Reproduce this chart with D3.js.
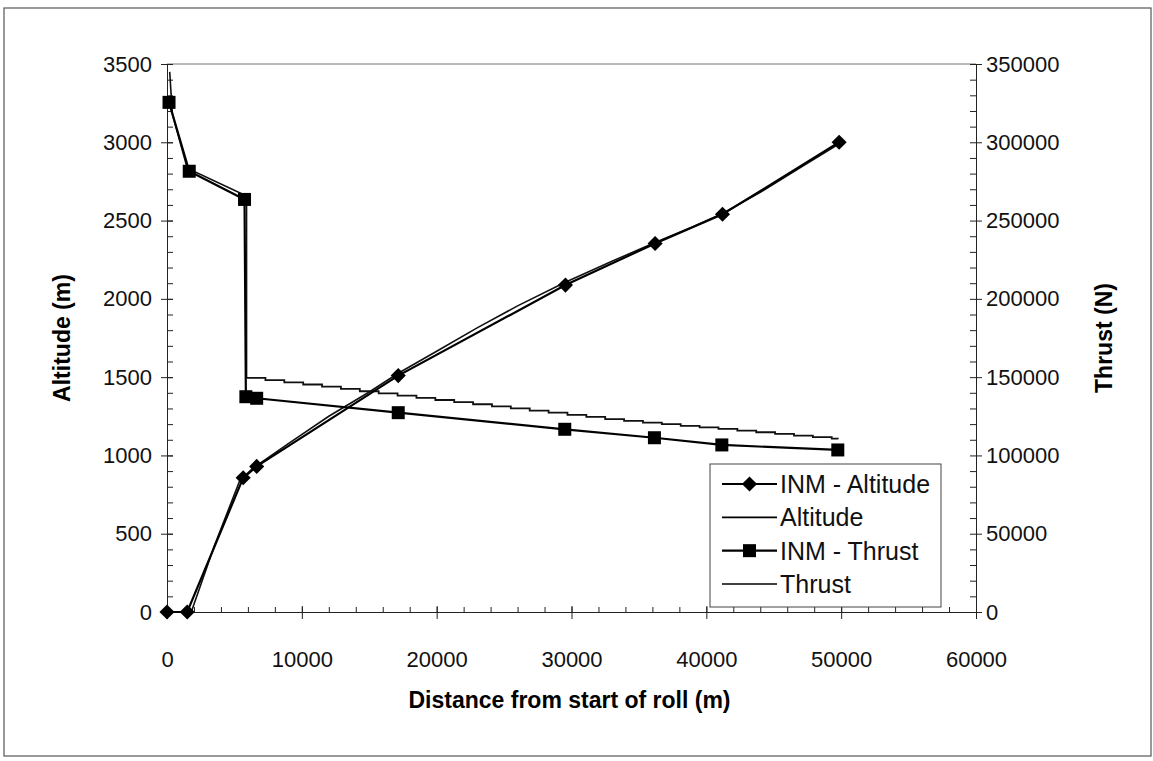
<!DOCTYPE html>
<html>
<head>
<meta charset="utf-8">
<script src="https://cdn.jsdelivr.net/npm/d3@7"></script>
<style>
  body { margin: 0; background: #fff; }
  svg { font-family: "Liberation Sans", Arial, sans-serif; }
  .tick text { font-size: 22px; fill: #111; }
</style>
</head>
<body>
<div id="chart"></div>
<script>
// INM model points (diamonds + squares)
const inmAltDist = [0, 1500, 5650, 6650, 17150, 29550, 36200, 41200, 49850];
const inmAlt     = [0, 0, 857, 930, 1510, 2088, 2354, 2540, 3000];

const inmThrDist = [150, 1650, 5750, 5850, 6650, 17150, 29500, 36150, 41150, 49750];
const inmThr     = [325500, 281500, 263500, 137500, 136500, 127300, 116700, 111300, 106700, 103500];

// computed altitude (plain line)
const altDist = [1800, 3500, 5400, 6400, 9000, 12000, 15000, 17150, 20000, 23000, 26000, 29500, 33000, 36200, 39000, 41200, 44000, 47000, 49850];
const alt     = [0, 420, 840, 920, 1075, 1250, 1405, 1525, 1665, 1815, 1955, 2105, 2240, 2360, 2460, 2545, 2680, 2840, 2990];

// computed thrust, take-off part then the stepped climb part
const thrHeadDist = [200, 400, 1500, 5700, 5900, 5900];
const thrHead     = [345000, 318000, 283500, 266500, 266000, 149500];

const thrStepDist = [5900, 7300, 8700, 10100, 11500, 12900, 14300, 15700, 17100, 18500, 19900, 21300, 22700,
  24100, 25500, 26900, 28300, 29700, 31100, 32500, 33900, 35300, 36700, 38100, 39500, 40900, 42300, 43700,
  45100, 46500, 47900, 49300, 49750];
const thrStep     = [149500, 148100, 146700, 145300, 143900, 142500, 141000, 139600, 138200, 136800, 135400,
  134000, 132700, 131300, 130000, 128600, 127300, 125900, 124600, 123200, 122100, 121000, 120000, 118900,
  117900, 116900, 115800, 114800, 113800, 112700, 111700, 110700, 110300];

const xTicks = [0, 10000, 20000, 30000, 40000, 50000, 60000];
const altTicks = [0, 500, 1000, 1500, 2000, 2500, 3000, 3500];
const thrTicks = [0, 50000, 100000, 150000, 200000, 250000, 300000, 350000];

const legendItems = ["INM - Altitude", "Altitude", "INM - Thrust", "Thrust"];

const W = 1153, H = 761;
const plotL = 167, plotR = 976, plotT = 64, plotB = 612;

const svg = d3.select("#chart").append("svg")
    .attr("width", W)
    .attr("height", H);

// outer chart frame
svg.append("rect")
    .attr("x", 4).attr("y", 8)
    .attr("width", W - 6).attr("height", 748)
    .attr("fill", "none")
    .attr("stroke", "#555")
    .attr("stroke-width", 1.2);

const x = d3.scaleLinear().domain([0, 60000]).range([plotL, plotR]);
const yL = d3.scaleLinear().domain([0, 3500]).range([plotB, plotT]);
const yR = d3.scaleLinear().domain([0, 350000]).range([plotB, plotT]);
const fmt = d3.format("d");

// plot area top border
svg.append("line")
    .attr("x1", plotL).attr("x2", plotR)
    .attr("y1", plotT).attr("y2", plotT)
    .attr("stroke", "#777").attr("stroke-width", 1);

function styleAxis(g) {
    g.selectAll("path").attr("stroke", "#222");
    g.selectAll("line").attr("stroke", "#222");
}

// x axis: minor ticks inside, major ticks crossing
svg.append("g")
    .attr("transform", "translate(0," + plotB + ")")
    .call(d3.axisTop(x).tickValues(d3.range(0, 60001, 2000)).tickSize(5).tickFormat("").tickSizeOuter(0))
    .call(styleAxis);
svg.append("g")
    .attr("transform", "translate(0," + plotB + ")")
    .call(d3.axisTop(x).tickValues(xTicks).tickSize(6).tickFormat("").tickSizeOuter(0))
    .call(styleAxis);
svg.append("g")
    .attr("transform", "translate(0," + plotB + ")")
    .call(d3.axisBottom(x).tickValues(xTicks).tickFormat(fmt).tickSize(7).tickPadding(32).tickSizeOuter(0))
    .call(styleAxis)
    .call(g => g.select(".domain").remove());

// left axis
svg.append("g")
    .attr("transform", "translate(" + plotL + ",0)")
    .call(d3.axisRight(yL).tickValues(d3.range(0, 3501, 100)).tickSize(6).tickFormat("").tickSizeOuter(0))
    .call(styleAxis);
svg.append("g")
    .attr("transform", "translate(" + plotL + ",0)")
    .call(d3.axisLeft(yL).tickValues(altTicks).tickFormat(fmt).tickSize(6).tickPadding(9).tickSizeOuter(0))
    .call(styleAxis)
    .call(g => g.select(".domain").remove());
svg.append("g")
    .attr("transform", "translate(" + plotL + ",0)")
    .call(d3.axisRight(yL).tickValues(altTicks).tickSize(6).tickFormat("").tickSizeOuter(0))
    .call(styleAxis);

// right axis
svg.append("g")
    .attr("transform", "translate(" + plotR + ",0)")
    .call(d3.axisLeft(yR).tickValues(d3.range(0, 350001, 10000)).tickSize(6).tickFormat("").tickSizeOuter(0))
    .call(styleAxis);
svg.append("g")
    .attr("transform", "translate(" + plotR + ",0)")
    .call(d3.axisRight(yR).tickValues(thrTicks).tickFormat(fmt).tickSize(6).tickPadding(4).tickSizeOuter(0))
    .call(styleAxis)
    .call(g => g.select(".domain").remove());

// axis titles
svg.append("text")
    .attr("x", (plotL + plotR) / 2 - 2).attr("y", 708)
    .attr("text-anchor", "middle")
    .attr("font-size", 23).attr("font-weight", "bold")
    .text("Distance from start of roll (m)");

svg.append("text")
    .attr("transform", "translate(70," + (plotT + plotB) / 2 + ") rotate(-90)")
    .attr("text-anchor", "middle")
    .attr("font-size", 23).attr("font-weight", "bold")
    .text("Altitude (m)");

svg.append("text")
    .attr("transform", "translate(1112," + (plotT + plotB) / 2 + ") rotate(-90)")
    .attr("text-anchor", "middle")
    .attr("font-size", 23).attr("font-weight", "bold")
    .text("Thrust (N)");

// series
const lineL = d3.line().x(d => x(d[0])).y(d => yL(d[1]));
const lineR = d3.line().x(d => x(d[0])).y(d => yR(d[1]));
const stepR = d3.line().x(d => x(d[0])).y(d => yR(d[1])).curve(d3.curveStepAfter);

const zip = (a, b) => a.map((v, i) => [v, b[i]]);

svg.append("path")
    .datum(zip(altDist, alt))
    .attr("d", lineL)
    .attr("fill", "none").attr("stroke", "#111").attr("stroke-width", 1.6);

svg.append("path")
    .datum(zip(thrHeadDist, thrHead))
    .attr("d", lineR)
    .attr("fill", "none").attr("stroke", "#111").attr("stroke-width", 1.6);

svg.append("path")
    .datum(zip(thrStepDist, thrStep))
    .attr("d", stepR)
    .attr("fill", "none").attr("stroke", "#111").attr("stroke-width", 1.8);

svg.append("path")
    .datum(zip(inmAltDist, inmAlt))
    .attr("d", lineL)
    .attr("fill", "none").attr("stroke", "#000").attr("stroke-width", 2.2);

svg.append("path")
    .datum(zip(inmThrDist, inmThr))
    .attr("d", lineR)
    .attr("fill", "none").attr("stroke", "#000").attr("stroke-width", 2.2);

const diamond = d3.symbol().type(d3.symbolDiamond2).size(110);

svg.selectAll(".dia")
    .data(zip(inmAltDist, inmAlt))
    .enter().append("path")
    .attr("class", "dia")
    .attr("transform", d => "translate(" + x(d[0]) + "," + yL(d[1]) + ") scale(1.15,1.15)")
    .attr("d", diamond)
    .attr("fill", "#000");

svg.selectAll(".sq")
    .data(zip(inmThrDist, inmThr))
    .enter().append("rect")
    .attr("class", "sq")
    .attr("x", d => x(d[0]) - 6.5)
    .attr("y", d => yR(d[1]) - 6.5)
    .attr("width", 13).attr("height", 13)
    .attr("fill", "#000");

// legend
const lg = svg.append("g").attr("transform", "translate(710,464)");
lg.append("rect")
    .attr("width", 231).attr("height", 143)
    .attr("fill", "#fff").attr("stroke", "#444").attr("stroke-width", 1);

const rowY = d3.scalePoint().domain(legendItems).range([20, 120]);

const rows = lg.selectAll(".row")
    .data(legendItems)
    .enter().append("g")
    .attr("transform", d => "translate(0," + rowY(d) + ")");

rows.append("line")
    .attr("x1", 12).attr("x2", 67)
    .attr("stroke", "#000")
    .attr("stroke-width", (d, i) => i % 2 === 0 ? 2.2 : 1.6);

rows.filter((d, i) => i === 0).append("path")
    .attr("transform", "translate(39.5,0) scale(1.15,1.15)")
    .attr("d", diamond)
    .attr("fill", "#000");

rows.filter((d, i) => i === 2).append("rect")
    .attr("x", 33).attr("y", -6.5)
    .attr("width", 13).attr("height", 13)
    .attr("fill", "#000");

rows.append("text")
    .attr("x", 70).attr("dy", "0.36em")
    .attr("font-size", 25)
    .attr("fill", "#111")
    .text(d => d);
</script>
</body>
</html>
